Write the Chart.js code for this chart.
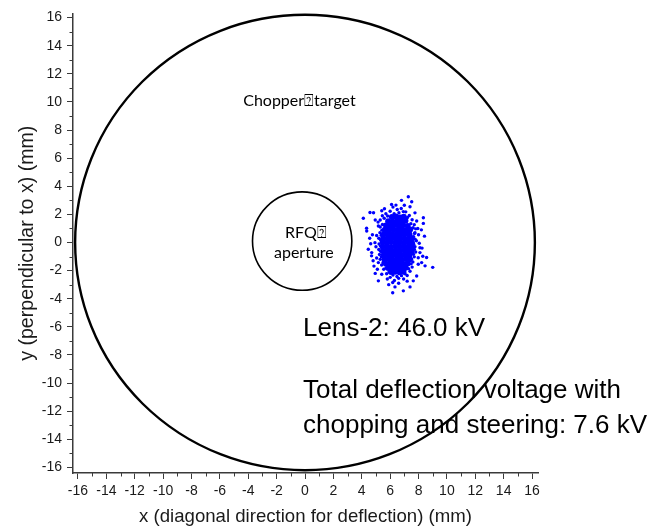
<!DOCTYPE html>
<html>
<head>
<meta charset="utf-8">
<script src="https://cdn.jsdelivr.net/npm/chart.js@4.4.1/dist/chart.umd.min.js"></script>
<style>
  html, body { margin: 0; padding: 0; background: #fff; }
  #wrap { width: 655px; height: 529px; }
</style>
</head>
<body>
<div id="wrap"><canvas id="chart"></canvas></div>
<script>
// Beam spot at the chopper target (mm)
// dense centre of the spot
const beamCore = [
  [6.12, 1.82], [6.42, 1.85], [6.71, 1.78], [6.96, 1.84],
  [5.86, 1.52], [6.16, 1.47], [6.47, 1.53], [6.76, 1.49], [7.08, 1.55],
  [5.71, 1.21], [6.02, 1.18], [6.31, 1.24], [6.6, 1.19], [6.91, 1.22], [7.24, 1.17],
  [5.63, 0.91], [5.93, 0.88], [6.23, 0.93], [6.53, 0.89], [6.83, 0.92], [7.13, 0.87], [7.41, 0.93],
  [5.56, 0.6], [5.86, 0.62], [6.16, 0.57], [6.46, 0.61], [6.76, 0.58], [7.06, 0.63], [7.36, 0.59],
  [5.51, 0.31], [5.81, 0.28], [6.11, 0.33], [6.41, 0.29], [6.71, 0.32], [7.01, 0.27], [7.31, 0.31], [7.53, 0.3],
  [5.48, 0.01], [5.78, -0.02], [6.08, 0.03], [6.38, -0.01], [6.68, 0.02], [6.98, -0.03], [7.28, 0.01], [7.54, -0.02],
  [5.47, -0.31], [5.77, -0.28], [6.07, -0.32], [6.37, -0.29], [6.67, -0.31], [6.97, -0.27], [7.27, -0.32], [7.52, -0.29],
  [5.5, -0.61], [5.8, -0.58], [6.1, -0.62], [6.4, -0.59], [6.7, -0.61], [7.0, -0.57], [7.3, -0.62], [7.5, -0.6],
  [5.55, -0.91], [5.85, -0.88], [6.15, -0.92], [6.45, -0.89], [6.75, -0.91], [7.05, -0.88], [7.35, -0.9],
  [5.61, -1.21], [5.9, -1.18], [6.2, -1.22], [6.5, -1.19], [6.8, -1.21], [7.1, -1.18], [7.39, -1.2],
  [5.7, -1.51], [6.0, -1.48], [6.3, -1.52], [6.6, -1.49], [6.9, -1.51], [7.24, -1.49],
  [5.86, -1.81], [6.15, -1.78], [6.45, -1.82], [6.75, -1.79], [7.09, -1.8],
  [6.06, -2.1], [6.36, -2.08], [6.66, -2.11], [6.94, -2.09]
];
// scattered particles round the centre
const beamHalo = [
  [4.11, 1.72], [4.58, 2.13], [4.83, 2.12], [5.41, 2.26], [6.2, 2.52], [6.41, 2.66], [6.93, 2.2],
  [7.28, 3.25], [7.52, 2.9], [7.4, 2.54], [7.75, 2.11], [8.34, 1.76], [8.34, 1.36], [4.35, 0.82],
  [4.34, 1.02], [5.17, 1.17], [4.46, -0.48], [4.63, -0.09], [4.93, -0.01], [4.7, -0.72], [4.69, -0.95],
  [5.17, -1.43], [8.1, -0.37], [7.98, -1.08], [7.98, -1.55], [8.22, -1.43], [9.0, -1.77], [7.87, -2.38],
  [7.63, -2.73], [7.4, -3.16], [6.93, -3.44], [6.18, -3.58], [6.34, -3.16], [6.18, -2.85], [5.41, -2.26],
  [5.17, -2.73], [8.1, -0.72], [8.57, -1.07], [8.46, -1.66], [7.75, 0.7], [7.87, 1.53],
  [5.3, 1.6], [5.45, 1.9], [5.7, 2.05], [6.0, 2.22], [6.5, 2.35], [6.78, 2.42], [7.1, 2.18],
  [7.35, 1.92], [7.55, 1.62], [7.7, 1.27], [7.8, 0.97], [7.65, 0.42], [7.85, 0.12], [7.75, -0.3],
  [7.8, -0.68], [7.7, -1.02], [7.6, -1.38], [7.55, -1.75], [7.4, -2.05], [7.2, -2.35], [6.95, -2.6],
  [6.6, -2.55], [6.3, -2.7], [6.0, -2.48], [5.75, -2.22], [5.55, -1.9], [5.4, -1.6], [5.3, -1.2],
  [5.25, -0.85], [5.2, -0.5], [5.22, -0.1], [5.2, 0.3], [5.28, 0.7], [5.3, 1.1], [5.15, 1.45],
  [5.05, 0.5], [5.0, -0.3], [5.05, -1.1], [5.1, -1.9], [8.0, 0.55], [8.05, -0.05], [7.95, 1.0],
  [5.6, 2.4], [6.1, 2.7], [7.0, 2.65], [6.6, -2.9], [5.8, -2.6], [7.2, -2.75], [4.95, 1.6],
  [4.75, 0.55], [4.8, -1.3], [4.95, -2.2], [8.2, 0.9], [8.25, -0.4], [6.8, 3.0], [5.9, -3.0],
  [5.58, 1.72], [5.82, 1.88], [6.28, 2.05], [6.62, 2.12], [7.22, 1.78], [7.46, 1.34], [7.62, 1.05],
  [7.72, 0.64], [7.76, 0.24], [7.66, -0.12], [7.71, -0.49], [7.64, -0.84], [7.52, -1.18], [7.48, -1.52],
  [7.3, -1.86], [7.05, -2.22], [6.8, -2.36], [6.48, -2.42], [6.2, -2.32], [5.92, -2.1], [5.7, -1.82],
  [5.5, -1.42], [5.38, -1.02], [5.33, -0.62], [5.31, -0.24], [5.33, 0.18], [5.37, 0.52], [5.42, 0.88],
  [5.46, 1.28], [4.56, 0.3], [4.86, -1.68], [8.42, 0.45], [8.3, -0.98]
];

// apertures: chopper target and RFQ entrance (mm)
const circleX = [0, -0.2];
const circleY = [0, 0.1];
const circleR = [16.2, 3.5];

// axes (mm)
const xRange = [-16.35, 16.42];
const yRange = [-16.4, 16.3];
const majorTicks = [-16, -14, -12, -10, -8, -6, -4, -2, 0, 2, 4, 6, 8, 10, 12, 14, 16];
const minorTicks = [-15, -13, -11, -9, -7, -5, -3, -1, 1, 3, 5, 7, 9, 11, 13, 15];
const xTitle = 'x (diagonal direction for deflection) (mm)';
const yTitle = 'y (perpendicular to x) (mm)';

const AXIS_COLOR = '#3a3a3a';
const SANS = '"Liberation Sans", Arial, sans-serif';
const CALIBRI = 'Lato, "Open Sans", sans-serif';

// text notes, placed in data units
const notes = [
  { text: 'Chopper\u2370target', x: -0.39, y: 9.69, font: '16px ' + CALIBRI, align: 'center' },
  { text: 'RFQ\u2370', x: 0.06, y: 0.34, font: '16px ' + CALIBRI, align: 'center' },
  { text: 'aperture', x: -0.08, y: -1.12, font: '16px ' + CALIBRI, align: 'center' },
  { text: 'Lens-2: 46.0 kV', x: -0.14, y: -6.64, font: '26px ' + SANS, align: 'left' },
  { text: 'Total deflection voltage with', x: -0.14, y: -11.04, font: '26px ' + SANS, align: 'left' },
  { text: 'chopping and steering: 7.6 kV', x: -0.14, y: -13.52, font: '26px ' + SANS, align: 'left' }
];

const shapesPlugin = {
  id: 'shapes',
  beforeDatasetsDraw(chart) {
    const { ctx, scales: { x, y } } = chart;
    ctx.save();
    ctx.fillStyle = '#000';
    ctx.textBaseline = 'alphabetic';
    notes.forEach(n => {
      ctx.font = n.font;
      ctx.textAlign = n.align;
      ctx.fillText(n.text, x.getPixelForValue(n.x), y.getPixelForValue(n.y));
    });
    ctx.restore();
  },
  afterDatasetsDraw(chart) {
    const { ctx, scales: { x, y } } = chart;
    ctx.save();
    ctx.strokeStyle = '#000';
    circleR.forEach((r, i) => {
      const cx = x.getPixelForValue(circleX[i]);
      const cy = y.getPixelForValue(circleY[i]);
      const rx = x.getPixelForValue(circleX[i] + r) - cx;
      const ry = cy - y.getPixelForValue(circleY[i] + r);
      ctx.lineWidth = i === 0 ? 2.4 : 1.6;
      ctx.beginPath();
      ctx.ellipse(cx, cy, rx, ry, 0, 0, Math.PI * 2);
      ctx.stroke();
    });
    ctx.restore();
  },
  afterDraw(chart) {
    // short minor ticks between the labelled ones
    const { ctx, chartArea, scales: { x, y } } = chart;
    ctx.save();
    ctx.strokeStyle = AXIS_COLOR;
    ctx.lineWidth = 1;
    ctx.beginPath();
    minorTicks.forEach(v => {
      const px = Math.round(x.getPixelForValue(v)) + 0.5;
      ctx.moveTo(px, chartArea.bottom);
      ctx.lineTo(px, chartArea.bottom + 3.5);
      const py = Math.round(y.getPixelForValue(v)) + 0.5;
      ctx.moveTo(chartArea.left, py);
      ctx.lineTo(chartArea.left - 3.5, py);
    });
    ctx.stroke();
    ctx.restore();
  }
};

function axis(range, title, isX) {
  return {
    type: 'linear',
    min: range[0],
    max: range[1],
    bounds: 'data',
    border: { display: true, color: AXIS_COLOR, width: 1.5 },
    grid: { drawOnChartArea: false, drawTicks: true, tickLength: 6, tickColor: AXIS_COLOR, tickWidth: 1 },
    afterBuildTicks(scale) {
      scale.ticks = majorTicks.map(v => ({ value: v }));
    },
    ticks: {
      autoSkip: false,
      maxRotation: 0,
      color: '#1a1a1a',
      padding: isX ? 4 : 5,
      font: { family: SANS, size: 14 }
    },
    title: {
      display: true,
      text: title,
      color: '#1a1a1a',
      font: { family: SANS, size: isX ? 18.6 : 19.6, lineHeight: 1.2 },
      padding: isX ? { top: 0, bottom: 1 } : { top: 16, bottom: 0 }
    },
    afterFit(scale) {
      if (isX) scale.height = 56; else scale.width = 73;
    }
  };
}

new Chart(document.getElementById('chart'), {
  type: 'scatter',
  data: {
    datasets: [
      {
        label: 'beam core',
        data: beamCore.map(([px, py]) => ({ x: px, y: py })),
        backgroundColor: '#0000ff',
        borderWidth: 0,
        pointRadius: 3.0
      },
      {
        label: 'beam halo',
        data: beamHalo.map(([px, py]) => ({ x: px, y: py })),
        backgroundColor: '#0000ff',
        borderWidth: 0,
        pointRadius: 1.7
      }
    ]
  },
  options: {
    responsive: true,
    maintainAspectRatio: false,
    animation: false,
    layout: { padding: { top: 12, right: 117, left: 0, bottom: 0 } },
    plugins: { legend: { display: false }, tooltip: { enabled: false } },
    scales: {
      x: axis(xRange, xTitle, true),
      y: axis(yRange, yTitle, false)
    }
  },
  plugins: [shapesPlugin]
});
</script>
</body>
</html>
